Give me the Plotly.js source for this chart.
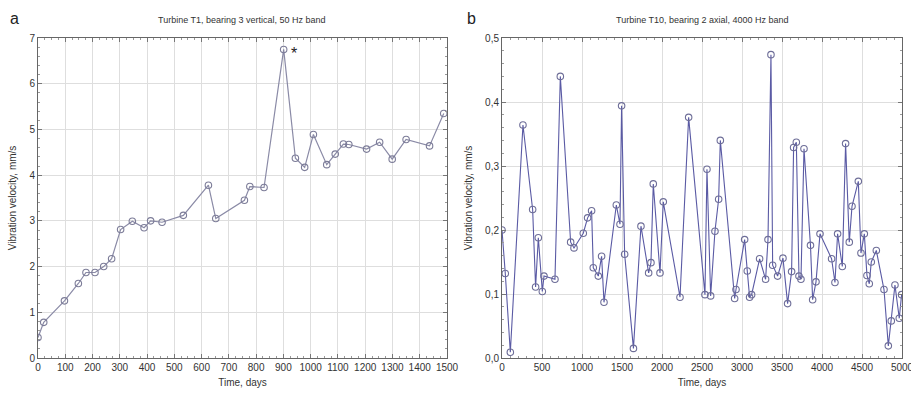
<!DOCTYPE html>
<html>
<head>
<meta charset="utf-8">
<script src="https://cdn.plot.ly/plotly-3.0.1.min.js"></script>
<style>html,body{margin:0;padding:0;background:#fff;}#chart{width:911px;height:394px;}</style>
</head>
<body>
<div id="chart"></div>
<script>
// Panel a: Turbine T1, bearing 3 vertical, 50 Hz band
var daysA = [0, 21, 97, 148, 176, 209, 241, 270, 303, 346, 389, 413, 455, 533, 625, 652, 757, 777, 829, 901, 944, 978, 1010, 1059, 1090, 1120, 1140, 1205, 1253, 1299, 1350, 1436, 1488];
var velA = [0.45, 0.78, 1.25, 1.63, 1.87, 1.87, 2.0, 2.17, 2.81, 2.99, 2.85, 3.0, 2.97, 3.12, 3.78, 3.05, 3.45, 3.75, 3.73, 6.75, 4.37, 4.17, 4.89, 4.23, 4.46, 4.68, 4.67, 4.57, 4.72, 4.35, 4.78, 4.64, 5.35];

// Panel b: Turbine T10, bearing 2 axial, 4000 Hz band
var daysB = [0, 41, 104, 262, 383, 420, 454, 504, 525, 662, 729, 858, 900, 1016, 1070, 1120, 1141, 1204, 1245, 1275, 1429, 1475, 1495, 1533, 1643, 1737, 1833, 1862, 1891, 1975, 2016, 2225, 2333, 2537, 2562, 2608, 2662, 2708, 2729, 2908, 2925, 3033, 3066, 3095, 3120, 3220, 3295, 3325, 3362, 3383, 3445, 3512, 3570, 3620, 3645, 3679, 3712, 3737, 3775, 3856, 3883, 3925, 3975, 4120, 4162, 4195, 4254, 4295, 4341, 4375, 4454, 4487, 4529, 4562, 4591, 4616, 4679, 4775, 4829, 4866, 4912, 4966, 4995];
var velB = [0.20, 0.132, 0.009, 0.364, 0.232, 0.111, 0.188, 0.104, 0.128, 0.123, 0.440, 0.181, 0.172, 0.195, 0.219, 0.230, 0.141, 0.128, 0.159, 0.087, 0.239, 0.209, 0.394, 0.162, 0.015, 0.206, 0.133, 0.149, 0.272, 0.133, 0.244, 0.095, 0.376, 0.099, 0.295, 0.097, 0.198, 0.248, 0.340, 0.093, 0.107, 0.185, 0.136, 0.095, 0.099, 0.155, 0.123, 0.185, 0.474, 0.145, 0.128, 0.156, 0.085, 0.135, 0.329, 0.337, 0.128, 0.123, 0.327, 0.176, 0.091, 0.119, 0.194, 0.155, 0.118, 0.194, 0.143, 0.335, 0.181, 0.237, 0.276, 0.164, 0.194, 0.129, 0.116, 0.150, 0.168, 0.107, 0.019, 0.058, 0.114, 0.062, 0.099];

var titleA = "Turbine T1, bearing 3 vertical, 50 Hz band";
var titleB = "Turbine T10, bearing 2 axial, 4000 Hz band";
var xLabel = "Time, days";
var yLabel = "Vibration velocity, mm/s";

var FONT = "Liberation Sans, Arial, sans-serif";

var traces = [
  {x: daysA, y: velA, xaxis: 'x', yaxis: 'y', type: 'scatter', mode: 'lines+markers',
   line: {color: '#8a8aa6', width: 1.2},
   marker: {symbol: 'circle-open', size: 6.5, color: '#7c7c98', line: {width: 1.1}}},
  {x: daysB, y: velB, xaxis: 'x2', yaxis: 'y2', type: 'scatter', mode: 'lines+markers',
   line: {color: '#5a5aa4', width: 1.1},
   marker: {symbol: 'circle-open', size: 6.5, color: '#6e6e98', line: {width: 1.1}}}
];

function axisBase() {
  return {
    showline: true, linecolor: '#666', linewidth: 1, mirror: 'allticks',
    ticks: 'inside', ticklen: 4, tickcolor: '#777',
    showgrid: true, gridcolor: '#dedede', gridwidth: 1,
    zeroline: false,
    tickfont: {family: FONT, size: 10, color: '#333'},
    title: {font: {family: FONT, size: 10, color: '#333'}}
  };
}

var xa = axisBase();
Object.assign(xa, {domain: [38/911, 447/911], range: [0, 1500], dtick: 100, tick0: 0, anchor: 'y',
  minor: {ticks: 'inside', dtick: 25, ticklen: 2, tickcolor: '#999', showgrid: false}});
xa.title = {text: xLabel, font: {family: FONT, size: 10, color: '#333'}, standoff: 6};

var ya = axisBase();
Object.assign(ya, {domain: [1 - 358/394, 1 - 38/394], range: [0, 7], dtick: 1, tick0: 0, anchor: 'x',
  minor: {ticks: 'inside', dtick: 0.2, ticklen: 2, tickcolor: '#999', showgrid: false}});
ya.title = {text: yLabel, font: {family: FONT, size: 10, color: '#333'}, standoff: 10};

var xb = axisBase();
Object.assign(xb, {domain: [502/911, 902/911], range: [0, 5000], dtick: 500, tick0: 0, anchor: 'y2',
  ticklabeloverflow: 'allow',
  minor: {ticks: 'inside', dtick: 100, ticklen: 2, tickcolor: '#999', showgrid: false}});
xb.title = {text: xLabel, font: {family: FONT, size: 10, color: '#333'}, standoff: 6};

var yb = axisBase();
Object.assign(yb, {domain: [1 - 358/394, 1 - 38/394], range: [0, 0.5], dtick: 0.1, tick0: 0, tickformat: '.1f', anchor: 'x2',
  minor: {ticks: 'inside', dtick: 0.02, ticklen: 2, tickcolor: '#999', showgrid: false}});
yb.title = {text: yLabel, font: {family: FONT, size: 10, color: '#333'}, standoff: 10};

var layout = {
  width: 911, height: 394,
  margin: {l: 0, r: 0, t: 0, b: 0},
  paper_bgcolor: '#ffffff', plot_bgcolor: '#ffffff',
  showlegend: false,
  separators: ',.',
  font: {family: FONT, color: '#333'},
  xaxis: xa, yaxis: ya, xaxis2: xb, yaxis2: yb,
  annotations: [
    {xref: 'paper', yref: 'paper', x: 242/911, y: 1 - 20/394, text: titleA, showarrow: false,
     font: {family: FONT, size: 9, color: '#333'}, xanchor: 'center', yanchor: 'middle'},
    {xref: 'paper', yref: 'paper', x: 702/911, y: 1 - 20/394, text: titleB, showarrow: false,
     font: {family: FONT, size: 9, color: '#333'}, xanchor: 'center', yanchor: 'middle'},
    {xref: 'paper', yref: 'paper', x: 14/911, y: 1 - 19/394, text: 'a', showarrow: false,
     font: {family: FONT, size: 16, color: '#222'}, xanchor: 'center', yanchor: 'middle'},
    {xref: 'paper', yref: 'paper', x: 471/911, y: 1 - 19/394, text: 'b', showarrow: false,
     font: {family: FONT, size: 16, color: '#222'}, xanchor: 'center', yanchor: 'middle'},
    {xref: 'x', yref: 'y', x: 901, y: 6.75, text: '*', showarrow: false, xshift: 10, yshift: -4,
     font: {family: FONT, size: 16, color: '#222'}}
  ]
};

Plotly.newPlot('chart', traces, layout, {staticPlot: true, displayModeBar: false});
</script>
</body>
</html>
